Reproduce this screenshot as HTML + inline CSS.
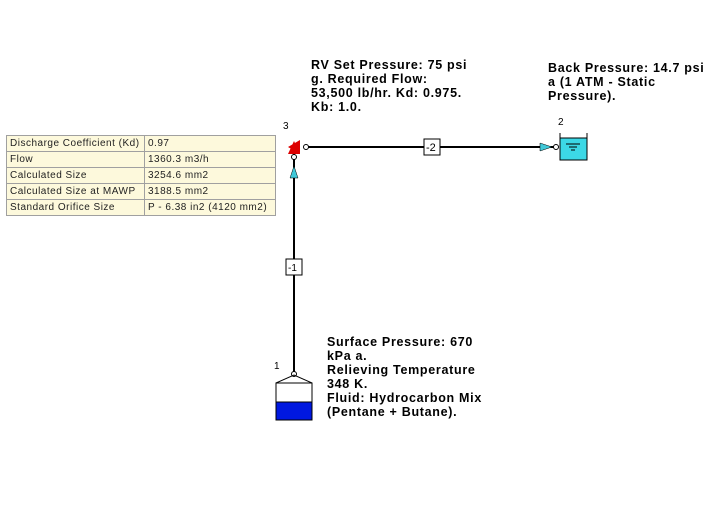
<!DOCTYPE html><html><head><style>
body{margin:0;width:713px;height:508px;background:#fff;overflow:hidden;position:relative;font-family:"Liberation Sans",sans-serif}
.t{position:absolute;font-weight:bold;font-size:12.5px;line-height:14px;color:#000;letter-spacing:0.7px}
table{position:absolute;left:6px;top:135px;border-collapse:collapse;background:#fdf9dc;font-size:10px;letter-spacing:0.5px}
td{border:1px solid #a0a0a0;height:15px;padding:0 3px;white-space:nowrap;color:#222}
</style></head><body>
<table>
<tr><td style="width:131px">Discharge Coefficient (Kd)</td><td style="width:124px">0.97</td></tr>
<tr><td>Flow</td><td>1360.3 m3/h</td></tr>
<tr><td>Calculated Size</td><td>3254.6 mm2</td></tr>
<tr><td>Calculated Size at MAWP</td><td>3188.5 mm2</td></tr>
<tr><td>Standard Orifice Size</td><td>P - 6.38 in2 (4120 mm2)</td></tr>
</table>
<svg width="713" height="508" style="position:absolute;left:0;top:0">
<line x1="306" y1="147" x2="556" y2="147" stroke="#000" stroke-width="2"/>
<line x1="294" y1="152" x2="294" y2="372" stroke="#000" stroke-width="2"/>
<rect x="424" y="139" width="16" height="16" fill="#fff" stroke="#000"/>
<text x="426" y="151" font-size="11" font-family="Liberation Sans">-2</text>
<rect x="286" y="259" width="16" height="16" fill="#fff" stroke="#000"/>
<text x="288" y="271" font-size="10" font-family="Liberation Sans">-1</text>
<polygon points="540,143 552,147 540,151" fill="#40c8d8" stroke="#000" stroke-width="0.5"/>
<polygon points="290,178 294,166 298,178" fill="#40c8d8" stroke="#000" stroke-width="0.5"/>
<polygon points="288,147 300,140 300,154" fill="#d00"/>
<polygon points="288,154 294,141 300,154" fill="#d00" />
<circle cx="306" cy="147" r="2.5" fill="#fff" stroke="#000"/>
<circle cx="294" cy="157" r="2.5" fill="#fff" stroke="#000"/>
<circle cx="556" cy="147" r="2.5" fill="#fff" stroke="#000"/>
<rect x="560" y="138" width="27" height="22" fill="#3cd8e6" stroke="#000"/>
<line x1="560" y1="133" x2="560" y2="138" stroke="#000"/><line x1="587" y1="133" x2="587" y2="138" stroke="#000"/>
<line x1="566" y1="144" x2="580" y2="144" stroke="#000"/><line x1="569" y1="147" x2="577" y2="147" stroke="#000"/><line x1="571" y1="150" x2="575" y2="150" stroke="#000"/>
<circle cx="294" cy="374" r="2.5" fill="#fff" stroke="#000"/>
<polyline points="276,383 294,375 312,383" fill="none" stroke="#000"/>
<rect x="276" y="383" width="36" height="37" fill="#fff" stroke="#000"/>
<rect x="276" y="402" width="36" height="18" fill="#0018e0" stroke="#000"/>
<text x="274" y="369" font-size="10" font-family="Liberation Sans">1</text>
<text x="283" y="129" font-size="10" font-family="Liberation Sans">3</text>
<text x="558" y="125" font-size="10" font-family="Liberation Sans">2</text>
</svg>
<div class="t" style="left:311px;top:58px">RV Set Pressure: 75 psi<br>g. Required Flow:<br>53,500 lb/hr. Kd: 0.975.<br>Kb: 1.0.</div>
<div class="t" style="left:548px;top:61px">Back Pressure: 14.7 psi<br>a (1 ATM - Static<br>Pressure).</div>
<div class="t" style="left:327px;top:335px">Surface Pressure: 670<br>kPa a.<br>Relieving Temperature<br>348 K.<br>Fluid: Hydrocarbon Mix<br>(Pentane + Butane).</div>
</body></html>
